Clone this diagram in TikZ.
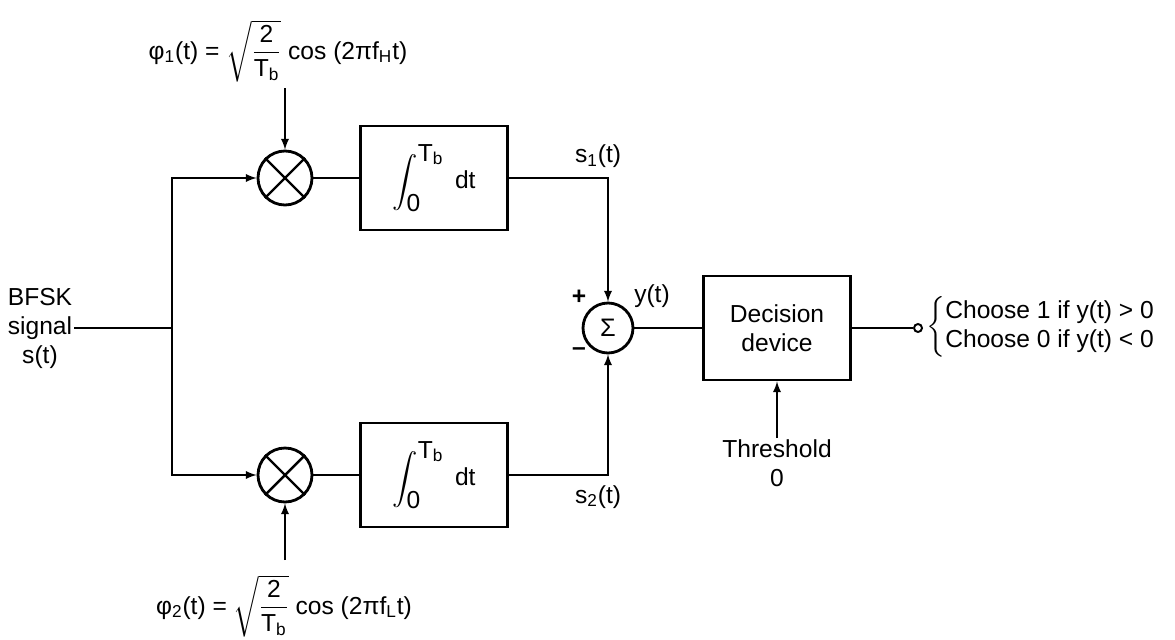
\documentclass[tikz,border=0pt]{standalone}
\usepackage{amsmath}
\usepackage{fontspec}
\setmainfont{Liberation Sans}
\usepackage{xcolor}
\usepackage{tikz}
\usetikzlibrary{shapes,arrows,positioning,calc}

\tikzset{
    blk/.style={draw, line width=1.6pt, minimum width=2.94cm, minimum height=2.08cm, align=center},
    mult/.style={draw, circle, line width=1.6pt, minimum size=1.08cm, inner sep=0pt},
    summ/.style={draw, circle, line width=1.6pt, minimum size=1.0cm, inner sep=0pt},
    lbl/.style={align=center, inner sep=1pt},
    wire/.style={line width=1.1pt},
}

\begin{document}
\begin{tikzpicture}[x=0.02cm, y=-0.02cm, >=latex, font=\fontsize{14}{16.5}\selectfont]
\useasboundingbox (0,0) rectangle (1175,639);

% Input
\node[lbl] (bfsk) at (40,328) {BFSK\\signal\\s(t)};
\coordinate (split) at (172,328);

% Multipliers
\node[mult] (mulH) at (285,178) {};
\node[mult] (mulL) at (285,475) {};
\foreach \m in {mulH, mulL} {
    \draw[line width=1.4pt] (\m.45) -- (\m.225);
    \draw[line width=1.4pt] (\m.135) -- (\m.315);
}

% Carriers
\node[lbl, anchor=south] (phiH) at (278,84)
    {φ$_{\text{1}}$(t) = $\sqrt{\dfrac{\text{2}}{\text{T}_{\text{b}}}}$ cos (2πf$_{\text{H}}$t)};
\node[lbl, anchor=north] (phiL) at (284,573)
    {φ$_{\text{2}}$(t) = $\sqrt{\dfrac{\text{2}}{\text{T}_{\text{b}}}}$ cos (2πf$_{\text{L}}$t)};

% Integrators
\node[blk] (intH) at (434,178) {$\displaystyle\int_{\mbox{0}}^{\mbox{T$_{\text{b}}$}}$\, dt};
\node[blk] (intL) at (434,475) {$\displaystyle\int_{\mbox{0}}^{\mbox{T$_{\text{b}}$}}$\, dt};

% Summer
\node[summ] (sum) at (608,328) {\Large Σ};
\node (plus) at (579,297) {\textbf{+}};
\node (minus) at (579,352) {\textbf{--}};
\node (yt) at (652,296) {y(t)};

% Decision
\node[blk] (dec) at (777,328) {Decision\\device};
\node[lbl, anchor=north] (thr) at (777,438) {Threshold\\0};

% Output
\node[draw, circle, line width=1.1pt, minimum size=0.16cm, inner sep=0pt] (out) at (918,328) {};
\node[anchor=west, inner sep=0pt] (rule) at (926,327)
    {$\left\{\begin{tabular}{@{}l@{}}Choose 1 if y(t) > 0\\Choose 0 if y(t) < 0\end{tabular}\right.$};

% Connections
\draw[wire] (bfsk.east) -- (split);
\draw[wire, ->] (split) |- (mulH.west);
\draw[wire, ->] (split) |- (mulL.west);
\draw[wire, ->, shorten <=0.08cm] (mulH |- phiH.south) -- (mulH.north);
\draw[wire, ->, shorten <=0.26cm] (mulL |- phiL.north) -- (mulL.south);
\draw[wire] (mulH) -- (intH);
\draw[wire] (mulL) -- (intL);
\draw[wire, ->] (intH.east) -| node[pos=0.45, above=2pt] {s$_{\text{1}}$(t)} (sum.north);
\draw[wire, ->] (intL.east) -| node[pos=0.45, below=2pt] {s$_{\text{2}}$(t)} (sum.south);
\draw[wire] (sum) -- (dec);
\draw[wire, ->] (thr.north) -- (dec.south);
\draw[wire] (dec.east) -- (out.west);

\end{tikzpicture}
\end{document}
